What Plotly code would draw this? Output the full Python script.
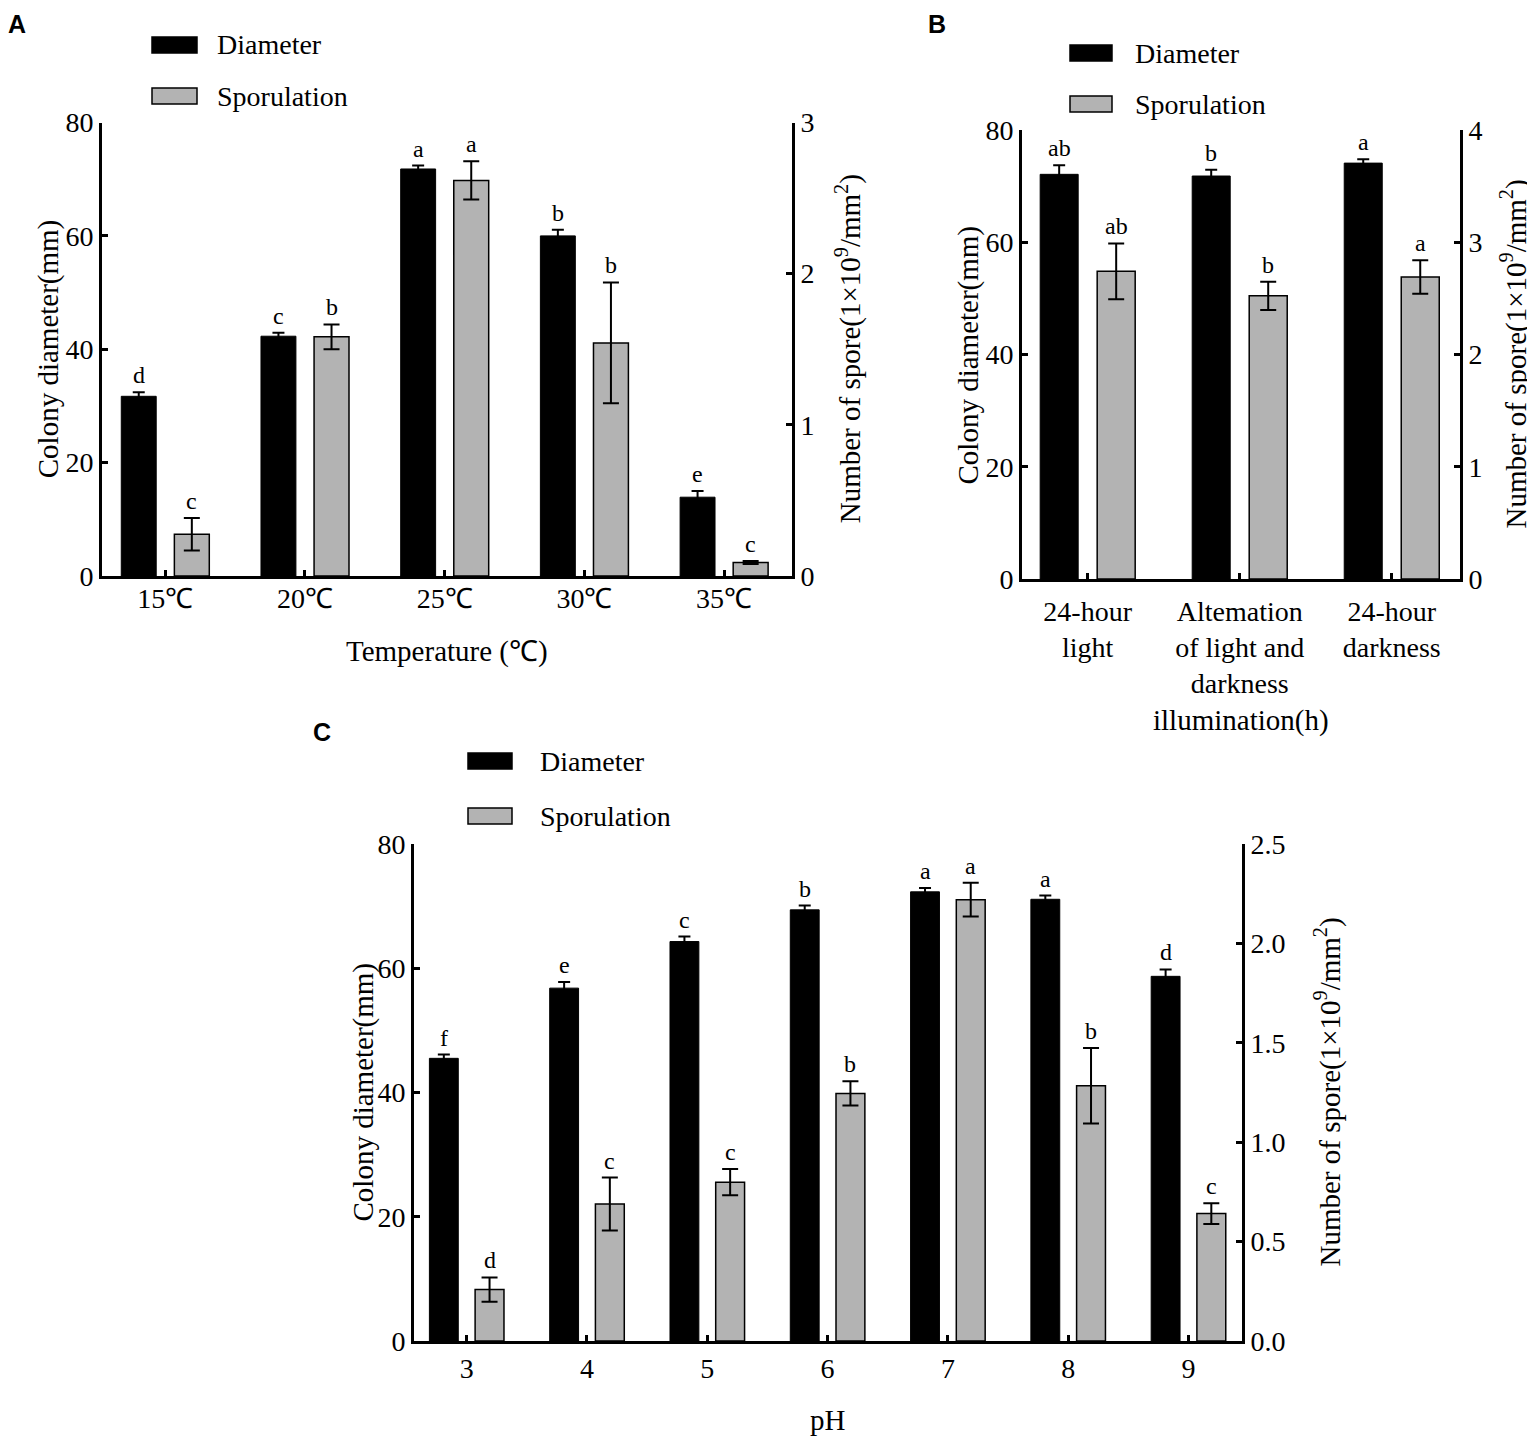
import plotly.graph_objects as go

W, H = 1535, 1445
SHIFT = 8  # the page body adds an 8 px margin; positions below are measured on the picture

# ---- data ----
temp_labels = ["15℃", "20℃", "25℃", "30℃", "35℃"]
temp_diam = [31.7, 42.3, 71.8, 60.0, 13.9]
temp_diam_sd = [0.7, 0.6, 0.6, 1.1, 1.1]
temp_diam_sig = ["d", "c", "a", "b", "e"]
temp_spore = [0.276, 1.582, 2.617, 1.542, 0.089]
temp_spore_sd = [0.107, 0.082, 0.127, 0.40, 0.01]
temp_spore_sig = ["c", "b", "a", "b", "c"]

light_labels = ["24-hour<br>light", "Altemation<br>of light and<br>darkness", "24-hour<br>darkness"]
light_diam = [72.1, 71.8, 74.1]
light_diam_sd = [1.6, 1.1, 0.7]
light_diam_sig = ["ab", "b", "a"]
light_spore = [2.741, 2.523, 2.69]
light_spore_sd = [0.248, 0.126, 0.149]
light_spore_sig = ["ab", "b", "a"]

ph_labels = ["3", "4", "5", "6", "7", "8", "9"]
ph_diam = [45.5, 56.8, 64.3, 69.4, 72.3, 71.1, 58.7]
ph_diam_sd = [0.6, 1.0, 0.8, 0.7, 0.6, 0.6, 1.1]
ph_diam_sig = ["f", "e", "c", "b", "a", "a", "d"]
ph_spore = [0.259, 0.689, 0.799, 1.245, 2.22, 1.284, 0.641]
ph_spore_sd = [0.061, 0.133, 0.066, 0.061, 0.085, 0.19, 0.052]
ph_spore_sig = ["d", "c", "c", "b", "a", "b", "c"]

FONT = "Liberation Serif"
GRAY = "#b3b3b3"


def px(x):
    return (x - SHIFT) / W


def py(y):
    return 1 - (y - SHIFT) / H


# panel geometry in pixels: left, right, top(y of max), bottom(y of 0)
panels = [
    dict(key="A", labels=temp_labels, diam=temp_diam, dsd=temp_diam_sd, dsig=temp_diam_sig,
         spore=temp_spore, ssd=temp_spore_sd, ssig=temp_spore_sig,
         box=(102, 792, 122.5, 576), xr=[-0.453, 4.486], r2=[0, 3], dt2=1, fmt2="d",
         xtitle="Temperature (℃)", xt_y=652, lab=(6, 8), ltx=48, rtx=848, tls=-5,
         leg=(152, 197, 45, 96, 215), half=0.19, w=0.25),
    dict(key="B", labels=light_labels, diam=light_diam, dsd=light_diam_sd, dsig=light_diam_sig,
         spore=light_spore, ssd=light_spore_sd, ssig=light_spore_sig,
         box=(1022, 1460, 130, 579), xr=[-0.432, 2.449], r2=[0, 4], dt2=1, fmt2="d",
         xtitle="illumination(h)", xt_y=720, lab=(926, 8), ltx=968, rtx=1514, tls=5,
         leg=(1070, 1112, 53, 104, 1133), half=0.1875, w=0.25),
    dict(key="C", labels=ph_labels, diam=ph_diam, dsd=ph_diam_sd, dsig=ph_diam_sig,
         spore=ph_spore, ssd=ph_spore_sd, ssig=ph_spore_sig,
         box=(414, 1242, 844, 1341), xr=[-0.438, 6.445], r2=[0, 2.5], dt2=0.5, fmt2=".1f",
         xtitle="pH", xt_y=1420, lab=(311, 716), ltx=363, rtx=1328, tls=0,
         leg=(468, 512, 761, 816, 538), half=0.19, w=0.24),
]

fig = go.Figure()
annotations = []
shapes = []
layout = {}

axis_common = dict(showline=True, linecolor="black", linewidth=3, showgrid=False,
                   zeroline=False, ticks="inside", tickcolor="black", tickwidth=3,
                   automargin=False,
                   tickfont=dict(family=FONT, size=28, color="black"))


def label(x, y, text, size, **kw):
    d = dict(x=x, y=y, xref="paper", yref="paper", text=text, showarrow=False,
             xanchor="center", yanchor="middle",
             font=dict(family=FONT, size=size, color="black"))
    d.update(kw)
    return d


for i, p in enumerate(panels):
    n = len(p["labels"])
    xs = list(range(n))
    xa = "x" if i == 0 else "x%d" % (i + 1)
    ya = "y" if i == 0 else "y%d" % (2 * i + 1)
    yb = "y%d" % (2 * i + 2)
    left, right, top, bottom = p["box"]
    w, half = p["w"], p["half"]

    fig.add_trace(go.Bar(
        x=xs, y=p["diam"], width=w, offset=-half - w / 2,
        marker=dict(color="black", line=dict(color="black", width=1)),
        error_y=dict(type="data", array=p["dsd"], color="black", thickness=2, width=6),
        xaxis=xa, yaxis=ya, showlegend=False, name="Diameter"))
    fig.add_trace(go.Bar(
        x=xs, y=p["spore"], width=w, offset=half - w / 2,
        marker=dict(color=GRAY, line=dict(color="black", width=1.5)),
        error_y=dict(type="data", array=p["ssd"], color="black", thickness=2, width=8),
        xaxis=xa, yaxis=yb, showlegend=False, name="Sporulation"))

    for j in xs:
        annotations.append(dict(x=j - half, y=p["diam"][j] + p["dsd"][j], xref=xa, yref=ya,
                                text=p["dsig"][j], showarrow=False, xanchor="center",
                                yanchor="bottom", yshift=2,
                                font=dict(family=FONT, size=24, color="black")))
        annotations.append(dict(x=j + half, y=p["spore"][j] + p["ssd"][j], xref=xa, yref=yb,
                                text=p["ssig"][j], showarrow=False, xanchor="center",
                                yanchor="bottom", yshift=2,
                                font=dict(family=FONT, size=24, color="black")))

    xkey = "xaxis" if i == 0 else "xaxis%d" % (i + 1)
    ykey = "yaxis" if i == 0 else "yaxis%d" % (2 * i + 1)
    y2key = "yaxis%d" % (2 * i + 2)
    layout[xkey] = dict(axis_common, domain=[px(left), px(right)], range=p["xr"], anchor=ya,
                        tickvals=xs, ticktext=p["labels"], ticklen=6,
                        ticklabelstandoff=p["tls"])
    layout[ykey] = dict(axis_common, domain=[py(bottom), py(top)], range=[0, 80], dtick=20,
                        anchor=xa, ticklen=6)
    layout[y2key] = dict(axis_common, overlaying=ya, side="right", anchor=xa, range=p["r2"],
                         dtick=p["dt2"], tickformat=p["fmt2"], ticklen=6)

    # axis titles
    cy = (top + bottom) / 2
    annotations.append(label(px(p["ltx"]), py(cy), "Colony diameter(mm)", 29, textangle=-90))
    annotations.append(label(px(p["rtx"]), py(cy),
                             "Number of spore(1×10<sup>9</sup>/mm<sup>2</sup>)", 29, textangle=-90))
    annotations.append(label(px((left + right) / 2), py(p["xt_y"]), p["xtitle"], 29))
    # panel letter
    annotations.append(label(px(p["lab"][0]), py(p["lab"][1]), "<b>%s</b>" % p["key"], 25,
                             xanchor="left", yanchor="top",
                             font=dict(family="Liberation Sans", size=25, color="black")))
    # legend boxes
    lx0, lx1, ly1, ly2, tx = p["leg"]
    for yy, col, txt in [(ly1, "black", "Diameter"), (ly2, GRAY, "Sporulation")]:
        shapes.append(dict(type="rect", xref="paper", yref="paper",
                           x0=px(lx0), x1=px(lx1), y0=py(yy - 8), y1=py(yy + 8),
                           fillcolor=col, line=dict(color="black", width=1.5)))
        annotations.append(label(px(tx), py(yy), txt, 28, xanchor="left"))

fig.update_layout(**layout)
fig.update_layout(template="none", width=W, height=H, margin=dict(l=0, r=0, t=0, b=0, pad=0),
                  paper_bgcolor="white", plot_bgcolor="white",
                  annotations=annotations, shapes=shapes, showlegend=False,
                  font=dict(family=FONT, color="black"))

fig.write_html("out.html")
